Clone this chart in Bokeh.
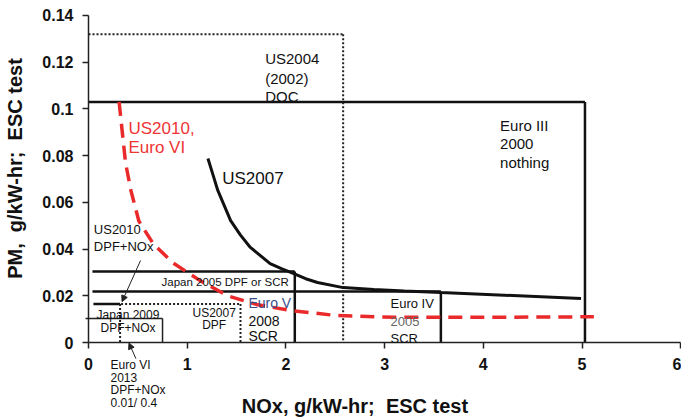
from bokeh.plotting import figure
from bokeh.models import Label, Arrow, NormalHead, Range1d, FixedTicker
from bokeh.embed import file_html
from bokeh.resources import INLINE
import math

# ---- data ----
x_ticks = [0, 1, 2, 3, 4, 5, 6]
y_ticks = [0, 0.02, 0.04, 0.06, 0.08, 0.1, 0.12, 0.14]
y_tick_labels = ["0", "0.02", "0.04", "0.06", "0.08", "0.1", "0.12", "0.14"]

# US2007 trade-off curve (NOx, PM)
us2007_nox = [1.21, 1.26, 1.31, 1.44, 1.54, 1.64, 1.84, 1.96, 2.08, 2.2, 2.32, 2.58, 2.89, 3.2, 3.57, 4.3, 4.99]
us2007_pm = [0.0788, 0.072, 0.0651, 0.0522, 0.046, 0.0407, 0.0338, 0.0315, 0.0295, 0.0273, 0.0257, 0.0235, 0.0227, 0.0221, 0.0214, 0.0201, 0.0188]

# US2010 / Euro VI curve (red dashed)
us2010_nox = [0.31, 0.34, 0.375, 0.43, 0.51, 0.66, 0.86, 1.13, 1.41, 1.7, 2.05, 2.5, 3.1, 4.0, 5.12]
us2010_pm = [0.103, 0.091, 0.077, 0.065, 0.052, 0.042, 0.034, 0.0265, 0.020, 0.0163, 0.0137, 0.0116, 0.0108, 0.0108, 0.011]

# regulation boxes: solid black lines (x0, y0, x1, y1)
solid_x0 = [0.0, 5.03, 0.04, 2.09, 0.04, 3.57, 0.05]
solid_y0 = [0.103, 0.103, 0.0304, 0.0304, 0.0218, 0.0218, 0.0165]
solid_x1 = [5.03, 5.03, 2.09, 2.09, 3.57, 3.57, 0.32]
solid_y1 = [0.103, 0.0, 0.0304, 0.0, 0.0218, 0.0, 0.0165]

# Japan 2009 box (thinner)
thin_x0 = [-0.03, 0.75]
thin_y0 = [0.0103, 0.0103]
thin_x1 = [0.75, 0.75]
thin_y1 = [0.0103, 0.0]

# dotted lines: US2004 box, US2007 DPF box, Euro VI marker
dot_x0 = [0.0, 2.58, 0.33, 1.54, 0.32]
dot_y0 = [0.132, 0.132, 0.0165, 0.0165, 0.0165]
dot_x1 = [2.58, 2.58, 1.54, 1.54, 0.32]
dot_y1 = [0.132, 0.0, 0.0165, 0.0, 0.0]

# text labels: (text, x, y, size, color, align)
labels = [
    ("US2004", 1.79, 0.1214, "15px", "#111111", "left"),
    ("(2002)", 1.79, 0.1132, "15px", "#111111", "left"),
    ("DOC", 1.79, 0.1052, "15px", "#111111", "left"),
    ("US2010,", 0.405, 0.0916, "17px", "#ee3535", "left"),
    ("Euro VI", 0.405, 0.0835, "17px", "#ee3535", "left"),
    ("US2007", 1.355, 0.0704, "17px", "#111111", "left"),
    ("Euro III", 4.17, 0.0929, "15px", "#111111", "left"),
    ("2000", 4.17, 0.0850, "15px", "#111111", "left"),
    ("nothing", 4.17, 0.0771, "15px", "#111111", "left"),
    ("US2010", 0.054, 0.0484, "13px", "#111111", "left"),
    ("DPF+NOx", 0.054, 0.0411, "13px", "#111111", "left"),
    ("Japan 2005 DPF or SCR", 0.74, 0.0257, "11.5px", "#111111", "left"),
    ("Euro V", 1.62, 0.0167, "14px", "#3a4f8a", "left"),
    ("2008", 1.62, 0.0094, "14px", "#111111", "left"),
    ("SCR", 1.62, 0.0030, "14px", "#111111", "left"),
    ("US2007", 1.273, 0.0126, "12px", "#111111", "center"),
    ("DPF", 1.273, 0.0077, "12px", "#111111", "center"),
    ("Japan 2009", 0.40, 0.0118, "12px", "#111111", "center"),
    ("DPF+NOx", 0.40, 0.0062, "12px", "#111111", "center"),
    ("Euro VI", 0.223, -0.0098, "12px", "#111111", "left"),
    ("2013", 0.223, -0.0150, "12px", "#111111", "left"),
    ("DPF+NOx", 0.223, -0.0205, "12px", "#111111", "left"),
    ("0.01/ 0.4", 0.223, -0.0261, "12px", "#111111", "left"),
    ("Euro IV", 3.06, 0.0167, "13px", "#111111", "left"),
    ("2005", 3.06, 0.0090, "13px", "#666666", "left"),
    ("SCR", 3.06, 0.0019, "13px", "#111111", "left"),
]

# arrows (x_start, y_start, x_end, y_end)
arrows = [
    (0.527, 0.0351, 0.34, 0.0175),
    (0.48, -0.0069, 0.41, -0.0002),
]

x_title = "NOx,\u00a0g/kW-hr;\u00a0\u00a0ESC\u00a0test"
y_title = "PM,\u00a0\u00a0g/kW-hr;\u00a0\u00a0ESC\u00a0test"

FONT = "Liberation Sans"

# the frame fills the whole canvas; axes are pinned at NOx = 0 and PM = 0
p = figure(width=681, height=420, output_backend="svg", toolbar_location=None,
           x_range=Range1d(-0.8916, 6.008), y_range=Range1d(-0.03339, 0.14642),
           min_border=0, min_border_left=0, min_border_right=0,
           min_border_top=0, min_border_bottom=0)
p.outline_line_color = None
p.grid.visible = False
p.background_fill_color = "white"
p.border_fill_color = "white"

# lines
p.segment(x0=solid_x0, y0=solid_y0, x1=solid_x1, y1=solid_y1,
          line_color="#111111", line_width=2.5)
p.segment(x0=thin_x0, y0=thin_y0, x1=thin_x1, y1=thin_y1,
          line_color="#222222", line_width=1.5)
p.segment(x0=dot_x0, y0=dot_y0, x1=dot_x1, y1=dot_y1,
          line_color="#222222", line_width=2, line_dash="2 2")

p.line(us2007_nox, us2007_pm, line_color="#111111", line_width=3)
p.line(us2010_nox, us2010_pm, line_color="#ea2a2a", line_width=3.5, line_dash="14 8")

for xs, ys, xe, ye in arrows:
    p.add_layout(Arrow(end=NormalHead(size=6, fill_color="#222222", line_color="#222222"),
                       x_start=xs, y_start=ys, x_end=xe, y_end=ye,
                       line_color="#222222", line_width=1))

for text, x, y, size, color, align in labels:
    p.add_layout(Label(x=x, y=y, text=text, text_font=FONT, text_font_size=size,
                       text_color=color, text_baseline="middle", text_align=align))

# axis titles
p.add_layout(Label(x=2.70, y=-0.0272, text=x_title, text_font=FONT, text_font_size="20px",
                   text_font_style="bold", text_color="#111111",
                   text_align="center", text_baseline="middle"))
p.add_layout(Label(x=-0.745, y=0.0745, text=y_title, text_font=FONT, text_font_size="20px",
                   text_font_style="bold", text_color="#111111", angle=math.pi / 2,
                   text_align="center", text_baseline="middle"))

# axes
for ax in (p.xaxis[0], p.yaxis[0]):
    ax.axis_line_color = "#222222"
    ax.axis_line_width = 1.5
    ax.major_tick_line_color = "#222222"
    ax.major_tick_line_width = 1.5
    ax.major_tick_in = 0
    ax.major_tick_out = 6
    ax.minor_tick_in = 0
    ax.minor_tick_out = 0
    ax.major_label_text_font = FONT
    ax.major_label_text_font_size = "16px"
    ax.major_label_text_font_style = "bold"
    ax.major_label_text_color = "#111111"

p.xaxis.fixed_location = 0
p.yaxis.fixed_location = 0
p.xaxis.bounds = (0, 6.0)
p.yaxis.bounds = (0, 0.14)
p.xaxis.ticker = FixedTicker(ticks=x_ticks)
p.yaxis.ticker = FixedTicker(ticks=y_ticks)
p.yaxis.major_label_overrides = {t: s for t, s in zip(y_ticks, y_tick_labels)}
p.xaxis.major_label_standoff = 9
p.yaxis.major_label_standoff = 9

open("out.html", "w").write(file_html(p, INLINE))
